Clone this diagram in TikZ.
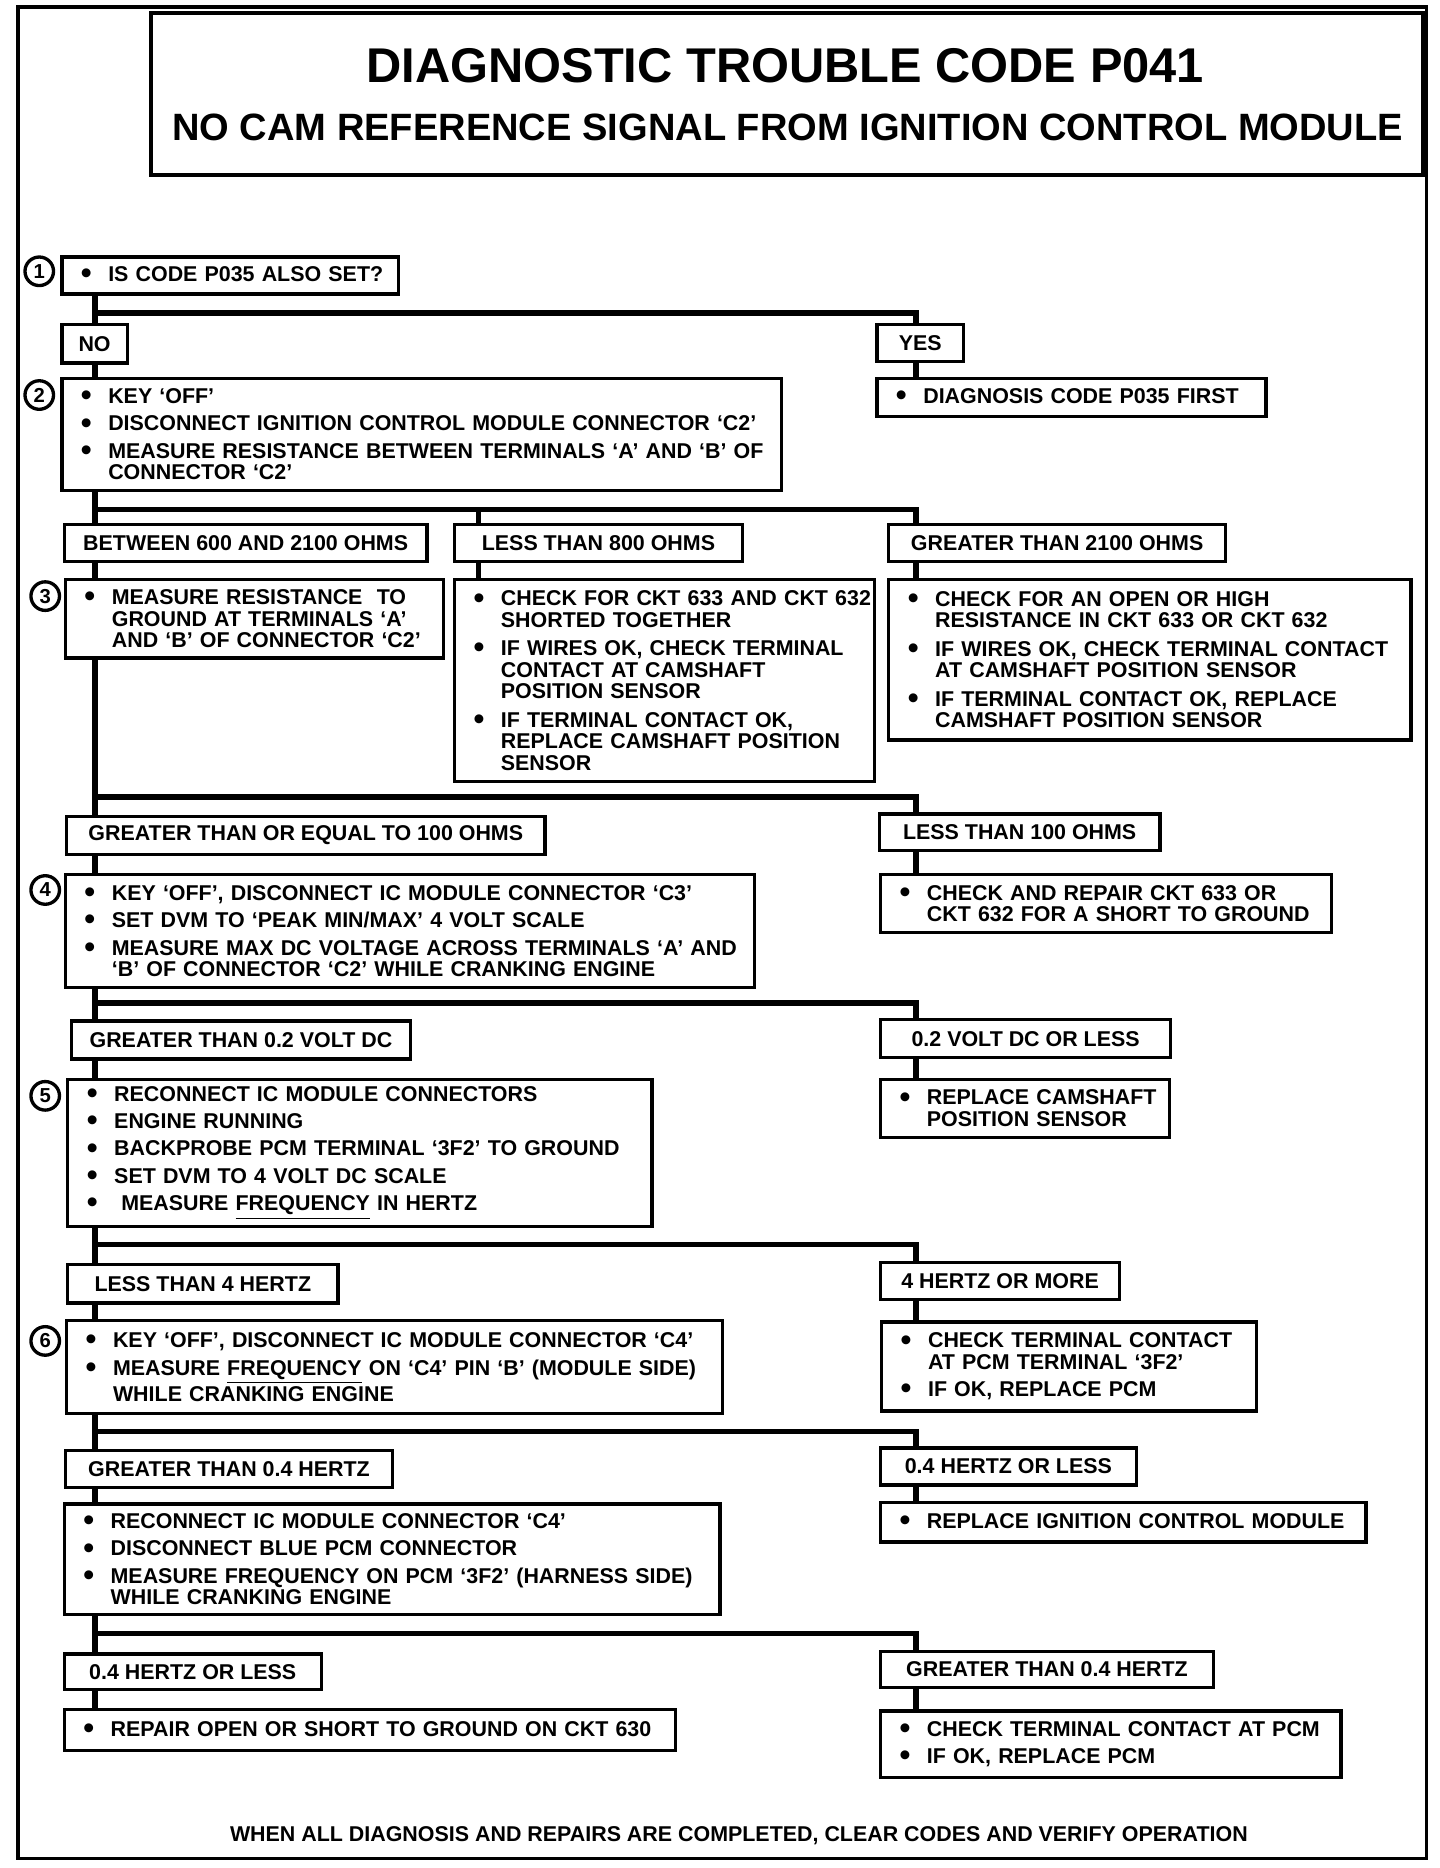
\documentclass[tikz,border=0pt]{standalone}
\usepackage{fontspec}
\setmainfont{Liberation Sans}
\newcommand{\bi}[1]{\makebox[11.5pt][l]{\raisebox{-0.9pt}{\fontsize{13}{9}\selectfont •}}\mbox{#1}}
\newcommand{\ct}[1]{\hspace*{11.5pt}\mbox{#1}}
\newcommand{\cbox}[6]{%
  \pgfmathsetmacro{\bw}{(#4-#2)*0.5}%
  \pgfmathsetmacro{\bh}{(#5-#3)*0.5}%
  \pgfmathsetmacro{\tw}{(#4-#2)*0.5-16}%
  \node[cbx, minimum width=\bw pt, minimum height=\bh pt, text width=\tw pt] (#1) at ({(#2+#4)/2},{(#3+#5)/2}) {#6};}
\newcommand{\lbox}[6]{%
  \pgfmathsetmacro{\bw}{(#4-#2)*0.5}%
  \pgfmathsetmacro{\bh}{(#5-#3)*0.5}%
  \node[lbx, minimum width=\bw pt, minimum height=\bh pt] (#1) at ({(#2+#4)/2},{(#3+#5)/2}) {#6};}
\tikzset{
  x=0.5pt, y=-0.5pt,
  frame/.style={draw, line width=1.5pt},
  cbx/.style={draw, line width=1.4pt, rectangle, inner xsep=8pt, inner ysep=0pt, align=left, font=\fontsize{9}{9}\selectfont\bfseries},
  lbx/.style={draw, line width=1.4pt, rectangle, inner xsep=4pt, inner ysep=0pt, align=center, font=\fontsize{9}{9}\selectfont\bfseries},
  num/.style={draw, circle, line width=1.4pt, inner sep=0pt, minimum size=12pt, font=\fontsize{8.5}{8.5}\selectfont\bfseries},
  conn/.style={line width=2.3pt, line join=miter},
}
\begin{document}
\begin{tikzpicture}
\useasboundingbox (0,0) rectangle (1210,1570);
% outer frame and title
\draw[frame] (15,6) rectangle (1199,1562);
\node[draw, line width=1.5pt, minimum width=534.5pt, minimum height=68pt, inner sep=0pt] (titlebox) at (661.5,79) {};
\node[font=\fontsize{20.5}{20.5}\selectfont\bfseries] (title) at (660,55) {DIAGNOSTIC TROUBLE CODE P041};
\node[font=\fontsize{16}{16}\selectfont\bfseries] (subtitle) at (662,107) {NO CAM REFERENCE SIGNAL FROM IGNITION CONTROL MODULE};

% step numbers
\node[num] (n1) at (33,228) {1};
\node[num] (n2) at (33,332) {2};
\node[num] (n3) at (38,501) {3};
\node[num] (n4) at (38,748) {4};
\node[num] (n5) at (38,921) {5};
\node[num] (n6) at (38,1127) {6};

% level 1
\cbox{b1}{52}{216}{335}{247}{\bi{IS CODE P035 ALSO SET?}}
\lbox{no}{52}{273}{107}{305}{NO}
\lbox{yes}{737}{273}{810}{304}{YES}
\cbox{d1}{737}{318}{1064}{350}{\bi{DIAGNOSIS CODE P035 FIRST}}
\cbox{b2}{52}{318}{657}{412}{\bi{KEY ‘OFF’}\\[2.5pt]\bi{DISCONNECT IGNITION CONTROL MODULE CONNECTOR ‘C2’}\\[2.5pt]\bi{MEASURE RESISTANCE BETWEEN TERMINALS ‘A’ AND ‘B’ OF}\\\ct{CONNECTOR ‘C2’}}

% level 2
\lbox{l2a}{54}{441}{359}{472}{BETWEEN 600 AND 2100 OHMS}
\lbox{l2b}{382}{441}{624}{472}{LESS THAN 800 OHMS}
\lbox{l2c}{747}{441}{1030}{472}{GREATER THAN 2100 OHMS}
\cbox{b3}{55}{487}{373}{553}{\bi{MEASURE RESISTANCE\ \ TO}\\\ct{GROUND AT TERMINALS ‘A’}\\\ct{AND ‘B’ OF CONNECTOR ‘C2’}}
\cbox{b3b}{382}{487}{735}{657}{\bi{CHECK FOR CKT 633 AND CKT 632}\\\ct{SHORTED TOGETHER}\\[3pt]\bi{IF WIRES OK, CHECK TERMINAL}\\\ct{CONTACT AT CAMSHAFT}\\\ct{POSITION SENSOR}\\[3pt]\bi{IF TERMINAL CONTACT OK,}\\\ct{REPLACE CAMSHAFT POSITION}\\\ct{SENSOR}}
\cbox{b3c}{747}{487}{1186}{622}{\bi{CHECK FOR AN OPEN OR HIGH}\\\ct{RESISTANCE IN CKT 633 OR CKT 632}\\[3pt]\bi{IF WIRES OK, CHECK TERMINAL CONTACT}\\\ct{AT CAMSHAFT POSITION SENSOR}\\[3pt]\bi{IF TERMINAL CONTACT OK, REPLACE}\\\ct{CAMSHAFT POSITION SENSOR}}

% level 3
\lbox{l3a}{56}{686}{458}{718}{GREATER THAN OR EQUAL TO 100 OHMS}
\lbox{l3b}{739}{684}{975}{715}{LESS THAN 100 OHMS}
\cbox{b4}{55}{735}{634}{830}{\bi{KEY ‘OFF’, DISCONNECT IC MODULE CONNECTOR ‘C3’}\\[2.5pt]\bi{SET DVM TO ‘PEAK MIN/MAX’ 4 VOLT SCALE}\\[2.5pt]\bi{MEASURE MAX DC VOLTAGE ACROSS TERMINALS ‘A’ AND}\\\ct{‘B’ OF CONNECTOR ‘C2’ WHILE CRANKING ENGINE}}
\cbox{b4r}{740}{735}{1119}{784}{\bi{CHECK AND REPAIR CKT 633 OR}\\\ct{CKT 632 FOR A SHORT TO GROUND}}

% level 4
\lbox{l4a}{60}{858}{345}{890}{GREATER THAN 0.2 VOLT DC}
\lbox{l4b}{740}{857}{984}{889}{0.2 VOLT DC OR LESS}
\cbox{b5}{57}{907}{548}{1031}{\bi{RECONNECT IC MODULE CONNECTORS}\\[2.5pt]\bi{ENGINE RUNNING}\\[2.5pt]\bi{BACKPROBE PCM TERMINAL ‘3F2’ TO GROUND}\\[2.5pt]\bi{SET DVM TO 4 VOLT DC SCALE}\\[2.5pt]\bi{\hspace{3pt}MEASURE \underline{FREQUENCY} IN HERTZ}}
\cbox{b5r}{740}{907}{983}{956}{\bi{REPLACE CAMSHAFT}\\\ct{POSITION SENSOR}}

% level 5
\lbox{l5a}{57}{1063}{284}{1095}{LESS THAN 4 HERTZ}
\lbox{l5b}{740}{1061}{941}{1092}{4 HERTZ OR MORE}
\cbox{b6}{56}{1110}{607}{1188}{\bi{KEY ‘OFF’, DISCONNECT IC MODULE CONNECTOR ‘C4’}\\[2.5pt]\bi{MEASURE \underline{FREQUENCY} ON ‘C4’ PIN ‘B’ (MODULE SIDE)}\\\ct{WHILE CRANKING ENGINE}}
\cbox{b6r}{741}{1111}{1056}{1186}{\bi{CHECK TERMINAL CONTACT}\\\ct{AT PCM TERMINAL ‘3F2’}\\[2.5pt]\bi{IF OK, REPLACE PCM}}

% level 6
\lbox{l6a}{55}{1219}{330}{1250}{GREATER THAN 0.4 HERTZ}
\lbox{l6b}{740}{1217}{955}{1248}{0.4 HERTZ OR LESS}
\cbox{b7}{54}{1264}{605}{1357}{\bi{RECONNECT IC MODULE CONNECTOR ‘C4’}\\[2.5pt]\bi{DISCONNECT BLUE PCM CONNECTOR}\\[2.5pt]\bi{MEASURE FREQUENCY ON PCM ‘3F2’ (HARNESS SIDE)}\\\ct{WHILE CRANKING ENGINE}}
\cbox{b7r}{740}{1263}{1148}{1296}{\bi{REPLACE IGNITION CONTROL MODULE}}

% level 7
\lbox{l7a}{54}{1390}{270}{1420}{0.4 HERTZ OR LESS}
\lbox{l7b}{740}{1388}{1020}{1418}{GREATER THAN 0.4 HERTZ}
\cbox{b8}{54}{1437}{568}{1471}{\bi{REPAIR OPEN OR SHORT TO GROUND ON CKT 630}}
\cbox{b8r}{740}{1438}{1127}{1494}{\bi{CHECK TERMINAL CONTACT AT PCM}\\[2.5pt]\bi{IF OK, REPLACE PCM}}

\node[font=\fontsize{9}{9}\selectfont\bfseries] (foot) at (621,1543) {WHEN ALL DIAGNOSIS AND REPAIRS ARE COMPLETED, CLEAR CODES AND VERIFY OPERATION};

% connectors
\coordinate (L) at (80,0);
\coordinate (R) at (770,0);
\coordinate (M) at (402,0);
\coordinate (j1) at (80,263);
\coordinate (j2) at (80,428);
\coordinate (j3) at (80,670);
\coordinate (j4) at (80,843);
\coordinate (j5) at (80,1046);
\coordinate (j6) at (80,1203);
\coordinate (j7) at (80,1373);

\draw[conn] (b1.south -| L) -- (no.north -| L);
\draw[conn] (j1) -| (yes.north -| R);
\draw[conn] (yes.south -| R) -- (d1.north -| R);
\draw[conn] (no.south -| L) -- (b2.north -| L);

\draw[conn] (b2.south -| L) -- (l2a.north -| L);
\draw[conn] (j2) -| (l2c.north -| R);
\draw[conn] (j2 -| M) -- (l2b.north -| M);
\draw[conn] (l2a.south -| L) -- (b3.north -| L);
\draw[conn] (l2b.south -| M) -- (b3b.north -| M);
\draw[conn] (l2c.south -| R) -- (b3c.north -| R);

\draw[conn] (b3.south -| L) -- (l3a.north -| L);
\draw[conn] (j3) -| (l3b.north -| R);
\draw[conn] (l3a.south -| L) -- (b4.north -| L);
\draw[conn] (l3b.south -| R) -- (b4r.north -| R);

\draw[conn] (b4.south -| L) -- (l4a.north -| L);
\draw[conn] (j4) -| (l4b.north -| R);
\draw[conn] (l4a.south -| L) -- (b5.north -| L);
\draw[conn] (l4b.south -| R) -- (b5r.north -| R);

\draw[conn] (b5.south -| L) -- (l5a.north -| L);
\draw[conn] (j5) -| (l5b.north -| R);
\draw[conn] (l5a.south -| L) -- (b6.north -| L);
\draw[conn] (l5b.south -| R) -- (b6r.north -| R);

\draw[conn] (b6.south -| L) -- (l6a.north -| L);
\draw[conn] (j6) -| (l6b.north -| R);
\draw[conn] (l6a.south -| L) -- (b7.north -| L);
\draw[conn] (l6b.south -| R) -- (b7r.north -| R);

\draw[conn] (b7.south -| L) -- (l7a.north -| L);
\draw[conn] (j7) -| (l7b.north -| R);
\draw[conn] (l7a.south -| L) -- (b8.north -| L);
\draw[conn] (l7b.south -| R) -- (b8r.north -| R);
\end{tikzpicture}
\end{document}
